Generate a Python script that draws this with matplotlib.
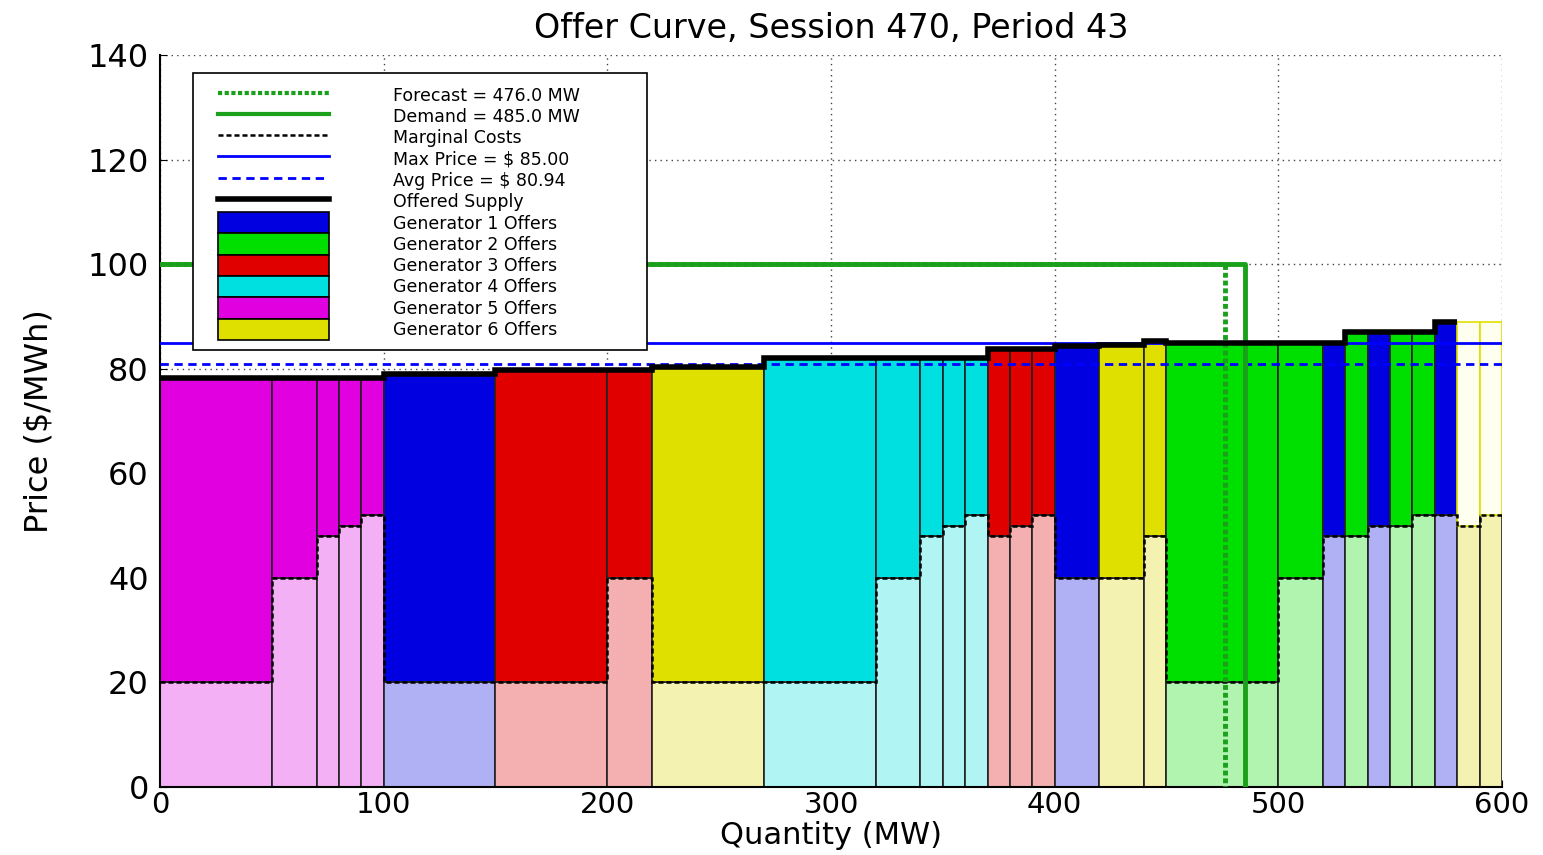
import matplotlib
matplotlib.use("Agg")
import matplotlib.pyplot as plt
from matplotlib.lines import Line2D
from matplotlib.patches import Patch, Rectangle
import numpy as np

# offer blocks in merit order
edges = [0, 50, 70, 80, 90, 100, 150, 200, 220, 270, 320, 340, 350, 360, 370,
         380, 390, 400, 420, 440, 450, 500, 520, 530, 540, 550, 560, 570, 580,
         590, 600]
gens = [5, 5, 5, 5, 5, 1, 3, 3, 6, 4, 4, 4, 4, 4, 3, 3, 3, 1, 6, 6, 2, 2, 1,
        2, 1, 2, 2, 1, 6, 6]
marginal_cost = [20, 40, 48, 50, 52, 20, 20, 40, 20, 20, 40, 48, 50, 52, 48,
                 50, 52, 40, 40, 48, 20, 40, 48, 48, 50, 50, 52, 52, 50, 52]
offer_price = [78.25, 78.25, 78.25, 78.25, 78.25, 79, 79.75, 79.75, 80.25, 82,
               82, 82, 82, 82, 83.75, 83.75, 83.75, 84.25, 84.5, 85.25, 85, 85,
               85, 87, 87, 87, 87, 89, 89, 89]
n_offered = 28  # last two blocks are not part of the offered supply

forecast = 476.0
demand = 485.0
max_price = 85.00
avg_price = 80.94
demand_cap = 100

dark = {1: "#0000e0", 2: "#00e000", 3: "#e00000", 4: "#00e0e0",
        5: "#e000e0", 6: "#e0e000"}
light = {1: "#b0b0f4", 2: "#b0f4b0", 3: "#f4b0b0", 4: "#b0f4f4",
         5: "#f4b0f4", 6: "#f4f2b0"}

plt.rcParams["font.family"] = ["DejaVu Sans"]

fig = plt.figure(figsize=(15.43, 8.55), dpi=100)
ax = fig.add_axes([0.1037, 0.0795, 0.8697, 0.8562])

left = np.array(edges[:-1])
width = np.diff(edges)
for i in range(len(gens)):
    g = gens[i]
    ax.bar(left[i], marginal_cost[i], width=width[i], align="edge",
           color=light[g], edgecolor="#222222", linewidth=1.2, zorder=2)
    if i < n_offered:
        ax.bar(left[i], offer_price[i] - marginal_cost[i], width=width[i],
               bottom=marginal_cost[i], align="edge", color=dark[g],
               edgecolor="#222222", linewidth=1.2, zorder=2)
    else:
        ax.bar(left[i], offer_price[i] - marginal_cost[i], width=width[i],
               bottom=marginal_cost[i], align="edge", color="#fffff0",
               edgecolor=dark[g], linewidth=1.2, zorder=2)

ax.stairs(marginal_cost, edges, baseline=None, color="black",
          linestyle=(0, (2, 1.2)), linewidth=1.8, zorder=3)
ax.axhline(max_price, color="#0000ff", linewidth=2, zorder=4)
ax.axhline(avg_price, color="#0000ff", linewidth=2, linestyle=(0, (3, 2)),
           zorder=4)
ax.plot([0, forecast, forecast], [demand_cap, demand_cap, 0], color="#1aa01a",
        linewidth=3.5, linestyle=(0, (1, 0.6)), zorder=4)
ax.plot([0, demand, demand], [demand_cap, demand_cap, 0], color="#1aa01a",
        linewidth=3.5, zorder=4)
ax.stairs(offer_price[:n_offered], edges[:n_offered + 1], baseline=None,
          color="black", linewidth=4, zorder=5)

ax.set_xlim(0, 600)
ax.set_ylim(0, 140)
ax.set_xticks(range(0, 601, 100))
ax.set_yticks(range(0, 141, 20))
ax.grid(True, color="#444444", linestyle=(0, (1, 3)), linewidth=1, zorder=0)
ax.set_axisbelow(True)
for s in ("top", "right"):
    ax.spines[s].set_visible(False)
for s in ("left", "bottom"):
    ax.spines[s].set_linewidth(1.5)
ax.tick_params(direction="in", length=5, labelsize=23, pad=8)
ax.tick_params(axis="x", labelsize=21, pad=3)

ax.set_title("Offer Curve, Session 470, Period 43", fontsize=24, pad=12)
ax.set_xlabel("Quantity (MW)", fontsize=22, labelpad=1)
ax.set_ylabel("Price ($/MWh)", fontsize=23, labelpad=24)

# legend: white box with black frame, entries placed inside it
ax.add_patch(Rectangle((0.0246, 0.597), 0.3383, 0.3784, transform=ax.transAxes,
                       facecolor="white", edgecolor="black", linewidth=1.2,
                       zorder=6))

handles = [
    Line2D([], [], color="#1aa01a", linewidth=3, linestyle=(0, (1, 0.6))),
    Line2D([], [], color="#1aa01a", linewidth=3),
    Line2D([], [], color="black", linewidth=1.8, linestyle=(0, (2, 1.2))),
    Line2D([], [], color="#0000ff", linewidth=2),
    Line2D([], [], color="#0000ff", linewidth=2, linestyle=(0, (3, 2))),
    Line2D([], [], color="black", linewidth=4),
]
labels = [f"Forecast = {forecast:.1f} MW", f"Demand = {demand:.1f} MW",
          "Marginal Costs", f"Max Price = $ {max_price:.2f}",
          f"Avg Price = $ {avg_price:.2f}", "Offered Supply"]
for g in range(1, 7):
    handles.append(Patch(facecolor=dark[g], edgecolor="black", linewidth=1.2))
    labels.append(f"Generator {g} Offers")

leg = ax.legend(handles, labels, loc="upper left",
                bbox_to_anchor=(0.0432, 0.9598), borderaxespad=0,
                borderpad=0, fontsize=12.5, handlelength=6.4,
                handleheight=1.51, handletextpad=3.7, labelspacing=0.0,
                frameon=False)
leg.set_zorder(7)

fig.savefig("out.png", dpi=100)
